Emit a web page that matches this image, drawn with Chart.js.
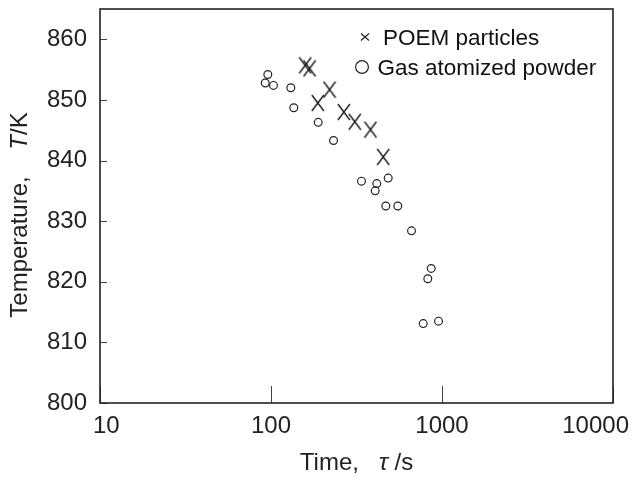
<!DOCTYPE html>
<html><head><meta charset="utf-8">
<script src="https://cdn.jsdelivr.net/npm/chart.js@4"></script>
<style>html,body{margin:0;padding:0;background:#fff}</style>
</head><body>
<canvas id="c" width="638" height="479"></canvas>
<script>
// ---- data ----
const seriesLabels = ['POEM particles', 'Gas atomized powder'];
const poemTime = [158.5, 168.0, 219.9, 187.8, 266.6, 309.1, 381.8, 453.0];
const poemTemp = [855.7, 855.2, 851.7, 849.5, 848.0, 846.4, 845.1, 840.6];
const gasTime = [95.8, 92.5, 103.4, 130.6, 135.9, 188.8, 232.1, 338.2, 415.6, 406.8, 484.6, 469.2, 551.4, 663.3, 864.8, 826.0, 776.6, 954.3];
const gasTemp = [854.2, 852.8, 852.4, 852.0, 848.7, 846.3, 843.3, 836.6, 836.2, 835.0, 837.1, 832.5, 832.5, 828.4, 822.2, 820.5, 813.1, 813.5];
const xTickValues = [10, 100, 1000, 10000];
const yTickValues = [800, 810, 820, 830, 840, 850, 860];
const xTitleParts = [['Time,   ', false], ['τ', true], [' /s', false]];
const yTitleParts = [['Temperature,    ', false], ['T', true], ['/K', false]];

const FONT = "'Liberation Sans', Arial, Helvetica, sans-serif";
const INK = '#222';

function toPoints(xs, ys) { return xs.map((v, i) => ({ x: v, y: ys[i] })); }

// tall, thin "x" marker like the reference
const crossMark = document.createElement('canvas');
crossMark.width = 14; crossMark.height = 18;
(function () {
  const g = crossMark.getContext('2d');
  g.strokeStyle = '#111'; g.lineWidth = 1.3;
  g.beginPath();
  g.moveTo(1, 1); g.lineTo(13, 17);
  g.moveTo(13, 1); g.lineTo(1, 17);
  g.stroke();
})();

function drawParts(ctx, parts, size) {
  let total = 0;
  parts.forEach(([t, it]) => { ctx.font = (it ? 'italic ' : '') + size + 'px ' + FONT; total += ctx.measureText(t).width; });
  let pos = -total / 2;
  parts.forEach(([t, it]) => {
    ctx.font = (it ? 'italic ' : '') + size + 'px ' + FONT;
    ctx.fillText(t, pos, 0);
    pos += ctx.measureText(t).width;
  });
}

const decor = {
  id: 'decor',
  afterDraw(chart) {
    const { ctx, chartArea: a, scales: { x, y } } = chart;
    ctx.save();
    // inward tick marks
    ctx.strokeStyle = '#444';
    ctx.lineWidth = 1;
    x.ticks.forEach(t => {
      const px = Math.round(x.getPixelForValue(t.value)) + 0.5;
      ctx.beginPath(); ctx.moveTo(px, a.bottom); ctx.lineTo(px, a.bottom - 17); ctx.stroke();
    });
    y.ticks.forEach(t => {
      const py = Math.round(y.getPixelForValue(t.value)) + 0.5;
      ctx.beginPath(); ctx.moveTo(a.left, py); ctx.lineTo(a.left + 7, py); ctx.stroke();
    });
    // frame
    ctx.strokeStyle = INK;
    ctx.lineWidth = 1.6;
    ctx.strokeRect(a.left, a.top, a.right - a.left, a.bottom - a.top);

    // x tick labels (kept inside the page at both ends)
    ctx.fillStyle = INK;
    ctx.font = '24px ' + FONT;
    ctx.textAlign = 'center';
    ctx.textBaseline = 'alphabetic';
    x.ticks.forEach(t => {
      const label = String(t.value);
      const w = ctx.measureText(label).width;
      let cx = x.getPixelForValue(t.value);
      cx = Math.max(93 + w / 2, Math.min(629 - w / 2, cx));
      ctx.fillText(label, cx, 433);
    });

    // legend
    ctx.fillStyle = '#111';
    ctx.textBaseline = 'middle';
    ctx.textAlign = 'left';
    ctx.font = '22.5px ' + FONT;
    ctx.strokeStyle = '#222';
    ctx.lineWidth = 1.2;
    ctx.beginPath();
    ctx.moveTo(361, 33.5); ctx.lineTo(369, 40.5);
    ctx.moveTo(369, 33.5); ctx.lineTo(361, 40.5);
    ctx.stroke();
    ctx.fillText(chart.data.datasets[0].label, 383, 38.5);
    ctx.beginPath(); ctx.arc(362, 67, 6.4, 0, Math.PI * 2); ctx.stroke();
    ctx.fillText(chart.data.datasets[1].label, 377.5, 68.5);

    // axis titles
    ctx.fillStyle = INK;
    ctx.textBaseline = 'alphabetic';
    ctx.save();
    ctx.translate((a.left + a.right) / 2, 470);
    drawParts(ctx, xTitleParts, 24);
    ctx.restore();
    ctx.save();
    ctx.translate(27, 215);
    ctx.rotate(-Math.PI / 2);
    drawParts(ctx, yTitleParts, 24);
    ctx.restore();
    ctx.restore();
  }
};

new Chart(document.getElementById('c'), {
  type: 'scatter',
  data: {
    datasets: [
      {
        label: seriesLabels[0],
        data: toPoints(poemTime, poemTemp),
        pointStyle: crossMark,
        pointRadius: 8,
        pointHoverRadius: 8,
        borderColor: '#111',
        backgroundColor: '#111'
      },
      {
        label: seriesLabels[1],
        data: toPoints(gasTime, gasTemp),
        pointStyle: 'circle',
        pointRadius: 3.9,
        pointHoverRadius: 3.9,
        borderColor: '#222',
        backgroundColor: 'rgba(255,255,255,0)',
        pointBorderWidth: 1.2
      }
    ]
  },
  options: {
    responsive: false,
    animation: false,
    devicePixelRatio: 1,
    layout: { padding: { left: 0, top: 9, right: 25, bottom: 0 } },
    plugins: { legend: { display: false }, tooltip: { enabled: false } },
    scales: {
      x: {
        type: 'logarithmic',
        min: 10, max: 10000,
        afterBuildTicks: s => { s.ticks = xTickValues.map(v => ({ value: v })); },
        afterFit: s => { s.height = 76; s.paddingLeft = 0; s.paddingRight = 0; },
        grid: { display: false, drawTicks: false },
        border: { display: false },
        ticks: { display: false },
        title: { display: false }
      },
      y: {
        type: 'linear',
        min: 800, max: 865,
        afterBuildTicks: s => { s.ticks = yTickValues.map(v => ({ value: v })); },
        afterFit: s => { s.width = 100; s.paddingTop = 0; s.paddingBottom = 0; },
        grid: { display: false, drawTicks: false },
        border: { display: false },
        ticks: {
          autoSkip: false, padding: 13, color: INK,
          font: { family: FONT, size: 24 },
          callback: v => String(v)
        },
        title: { display: false }
      }
    }
  },
  plugins: [decor]
});
</script>
</body></html>
